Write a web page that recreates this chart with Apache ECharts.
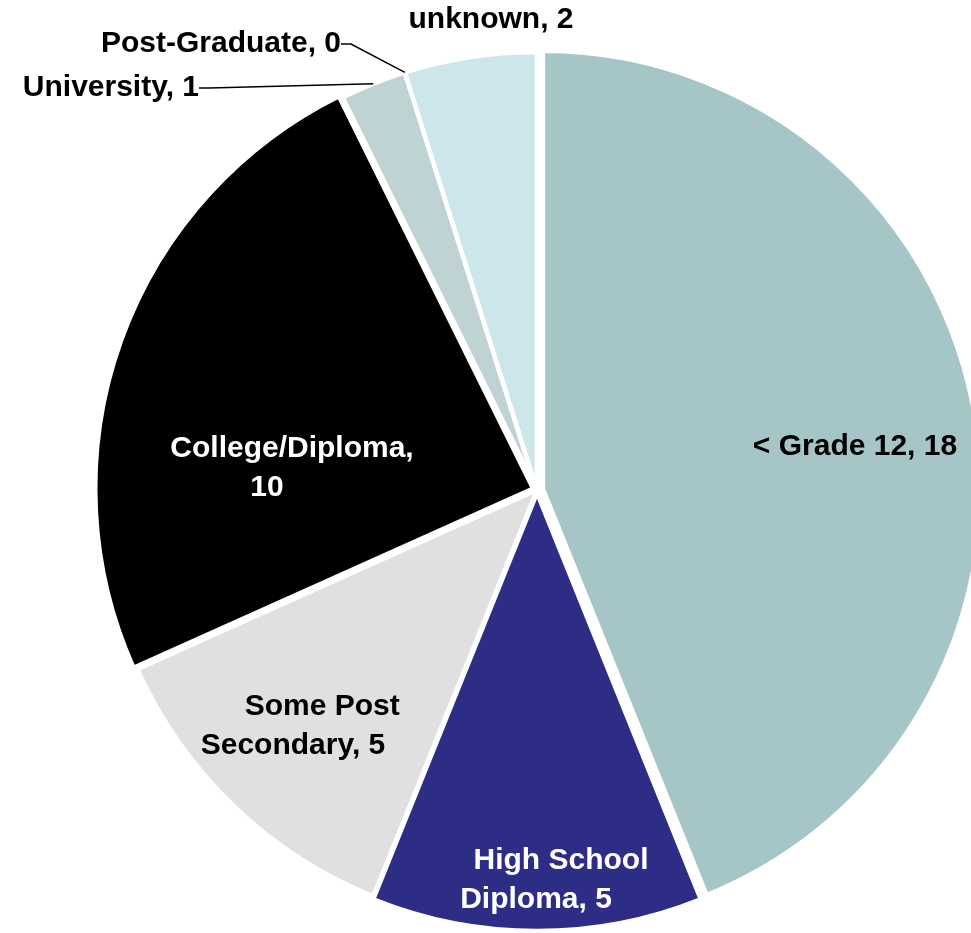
<!DOCTYPE html>
<html>
<head>
<meta charset="utf-8">
<script src="https://cdn.jsdelivr.net/npm/echarts@6/dist/echarts.min.js"></script>
<style>
html,body{margin:0;padding:0;background:#fff;}
#chart{width:971px;height:933px;}
</style>
</head>
<body>
<div id="chart"></div>
<script>
const categories = ['< Grade 12', 'High School Diploma', 'Some Post Secondary', 'College/Diploma', 'University', 'Post-Graduate', 'unknown'];
const values = [18, 5, 5, 10, 1, 0, 2];
const labelTexts = ['< Grade 12, 18', '      High School\nDiploma, 5', '       Some Post\nSecondary, 5', 'College/Diploma,\n10      ', 'University, 1', 'Post-Graduate, 0', 'unknown, 2'];
const colors = ['#a5c5c7', '#2e2d86', '#e0e0e0', '#000000', '#bfd2d4', '#8aa9ac', '#cde6ea'];

const chart = echarts.init(document.getElementById('chart'), null, {renderer: 'canvas'});

const CENTER = [537, 490];
const RADIUS = 438;
const FONT = 'Liberation Sans, Arial, sans-serif';

const labelCfg = [
  {x: 855, y: 447, align: 'center', color: '#000'},
  {x: 536, y: 880, align: 'center', color: '#fff'},
  {x: 293, y: 726, align: 'center', color: '#000'},
  {x: 292, y: 468, align: 'center', color: '#fff'},
  {x: 199, y: 88, align: 'right', color: '#000'},
  {x: 341, y: 44, align: 'right', color: '#000'},
  {x: 491, y: 20, align: 'center', color: '#000'}
];

// shape series: each draws only its own slices, exploded by its offset
function shapeSeries(visible, offset) {
  return {
    type: 'pie',
    center: CENTER,
    radius: RADIUS,
    startAngle: 90,
    clockwise: true,
    silent: true,
    selectedMode: offset > 0 ? 'multiple' : false,
    selectedOffset: offset,
    stillShowZeroSum: true,
    label: {show: false},
    labelLine: {show: false},
    emphasis: {disabled: true},
    data: categories.map((c, i) => {
      const on = visible.indexOf(i) >= 0;
      return {
        name: c,
        value: values[i],
        selected: on && offset > 0,
        itemStyle: on ? {color: colors[i], borderColor: '#fff', borderWidth: 4.5}
                      : {color: 'rgba(0,0,0,0)', borderWidth: 0}
      };
    })
  };
}

const labelSeries = {
  type: 'pie',
  center: CENTER,
  radius: RADIUS,
  startAngle: 90,
  clockwise: true,
  silent: true,
  selectedMode: false,
  stillShowZeroSum: true,
  avoidLabelOverlap: false,
  minShowLabelAngle: -1,
  z: 10,
  itemStyle: {color: 'rgba(0,0,0,0)', borderWidth: 0},
  label: {
    show: true,
    fontFamily: FONT,
    fontWeight: 'bold',
    fontSize: 30,
    lineHeight: 39
  },
  emphasis: {disabled: true},
  labelLayout: function (p) {
    const c = labelCfg[p.dataIndex];
    return {x: c.x, y: c.y, align: c.align, verticalAlign: 'middle'};
  },
  data: categories.map((c, i) => ({
    name: c,
    value: values[i],
    label: {
      formatter: labelTexts[i],
      color: labelCfg[i].color,
      position: i >= 4 ? 'outside' : 'inside'
    },
    labelLine: {show: i === 4 || i === 5, length: 15, length2: 10, lineStyle: {color: '#000', width: 1.5}}
  }))
};

chart.setOption({
  animation: false,
  series: [
    shapeSeries([2, 4, 5, 6], 0),
    shapeSeries([3], 4),
    shapeSeries([1], 3),
    shapeSeries([0], 6),
    labelSeries
  ]
});
</script>
</body>
</html>
